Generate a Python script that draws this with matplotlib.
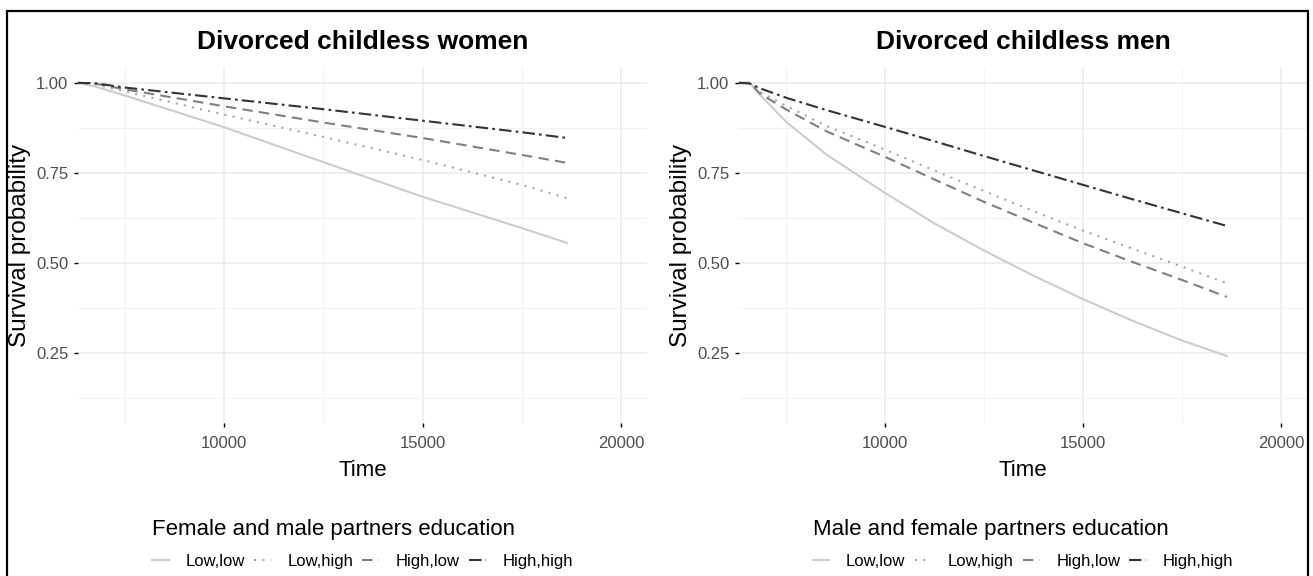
"""Survival curves of divorced childless women and men by partners' education."""

import matplotlib
matplotlib.use("Agg")
import matplotlib.pyplot as plt
from matplotlib.patches import Rectangle
from matplotlib.ticker import MultipleLocator

plt.rcParams["font.family"] = ["Liberation Sans", "DejaVu Sans"]

# --- data ---
groups = ["Low,low", "Low,high", "High,low", "High,high"]

women_time = [6322, 6750, 7500, 10000, 12500, 15000, 17500, 18640]
women_low_low = [1.0, 0.990, 0.965, 0.877, 0.780, 0.684, 0.597, 0.556]
women_low_high = [1.0, 0.996, 0.976, 0.912, 0.850, 0.786, 0.717, 0.680]
women_high_low = [1.0, 0.998, 0.982, 0.935, 0.890, 0.847, 0.800, 0.778]
women_high_high = [1.0, 0.999, 0.987, 0.957, 0.927, 0.895, 0.863, 0.847]

men_time = [6322, 6600, 6850, 7530, 8540, 10000, 11250, 12500, 13750, 15000, 16250, 17500, 18630]
men_low_low = [1.0, 1.0, 0.967, 0.890, 0.800, 0.695, 0.610, 0.535, 0.465, 0.400, 0.340, 0.285, 0.242]
men_low_high = [1.0, 1.0, 0.975, 0.935, 0.880, 0.815, 0.757, 0.700, 0.644, 0.590, 0.540, 0.490, 0.444]
men_high_low = [1.0, 1.0, 0.970, 0.925, 0.865, 0.795, 0.732, 0.670, 0.612, 0.555, 0.503, 0.453, 0.406]
men_high_high = [1.0, 0.998, 0.985, 0.958, 0.924, 0.878, 0.838, 0.797, 0.757, 0.717, 0.677, 0.638, 0.603]

titles = ["Divorced childless women", "Divorced childless men"]
legend_titles = ["Female and male partners education",
                 "Male and female partners education"]

# --- styles ---
colors = ["#cccccc", "#a6a6a6", "#7f7f7f", "#333333"]
dashes = [(), (1, 3), (5, 3), (6, 2, 1.3, 2)]

W, H = 1313, 576
fig = plt.figure(figsize=(W / 100, H / 100), dpi=100)

# outer frame
fig.patches.append(Rectangle((7 / W, -0.05), (1308 - 7) / W, 1.05 - 11 / H,
                             transform=fig.transFigure, fill=False,
                             edgecolor="black", linewidth=1.6))

panels = [
    (78, 647, women_time, [women_low_low, women_low_high, women_high_low, women_high_high]),
    (739, 1307, men_time, [men_low_low, men_low_high, men_high_low, men_high_high]),
]
top, bottom = 67, 423

for i, (x0, x1, t, series) in enumerate(panels):
    ax = fig.add_axes([x0 / W, 1 - bottom / H, (x1 - x0) / W, (bottom - top) / H])
    for vals, c, d, lab in zip(series, colors, dashes, groups):
        ln, = ax.plot(t, vals, color=c, lw=1.5, label=lab)
        if d:
            ln.set_dashes(d)

    ax.set_xlim(6322, 20655)
    ax.set_ylim(0.056, 1.044)
    ax.xaxis.set_major_locator(MultipleLocator(5000))
    ax.xaxis.set_minor_locator(MultipleLocator(2500))
    ax.yaxis.set_major_locator(MultipleLocator(0.25))
    ax.yaxis.set_minor_locator(MultipleLocator(0.125))
    ax.set_yticks([0.25, 0.5, 0.75, 1.0])
    ax.set_yticklabels(["0.25", "0.50", "0.75", "1.00"])
    ax.grid(which="major", color="#ebebeb", lw=1.1)
    ax.grid(which="minor", color="#f3f3f3", lw=0.8)
    ax.set_axisbelow(True)
    for s in ax.spines.values():
        s.set_visible(False)
    ax.tick_params(which="major", length=3, width=1, color="black",
                   labelsize=12, labelcolor="#4d4d4d")
    ax.tick_params(axis="x", pad=6)
    ax.tick_params(axis="y", pad=4)
    ax.tick_params(which="minor", length=0)

    ax.set_xlabel("Time", fontsize=16)
    ax.xaxis.set_label_coords(0.5, -0.105)
    ax.set_ylabel("Survival probability", fontsize=17.5)
    ax.yaxis.set_label_coords(-0.082, 0.5)
    ax.text(0.5, 1 + 25 / (bottom - top), titles[i], transform=ax.transAxes,
            ha="center", va="center", fontsize=19, fontweight="bold")

    h, l = ax.get_legend_handles_labels()
    fig.legend(h, l, loc="center", bbox_to_anchor=((x0 + x1) / 2 / W, 1 - 544 / H),
               ncol=4, frameon=False, fontsize=12, title=legend_titles[i],
               title_fontsize=16, alignment="left", handlelength=1.0,
               handletextpad=1.0, columnspacing=0.55, labelspacing=0.8,
               borderpad=0)

fig.savefig("out.png", dpi=100)
